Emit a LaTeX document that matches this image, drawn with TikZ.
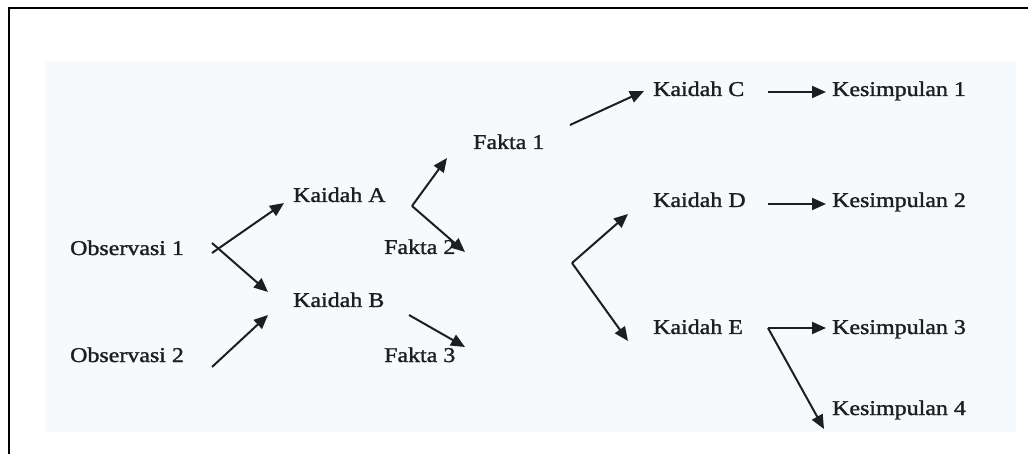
\documentclass[tikz,border=0pt]{standalone}
\usepackage{fontspec}
\setmainfont{Liberation Serif}
\newfontfamily\heavyserif[FakeBold=1.3]{Liberation Serif}
\usetikzlibrary{arrows.meta}
\definecolor{bgpanel}{HTML}{F6FAFC}
\definecolor{ink}{HTML}{1E1E1E}
\newcommand{\wtxt}[1]{\scalebox{1.14}[1]{#1}}
\tikzset{
  lbl/.style={inner sep=0pt, anchor=base west, text=ink, font=\heavyserif\fontsize{21}{25}\selectfont},
  arr/.style={draw=ink, line width=2pt, -{Triangle[length=14pt,width=12pt]}}
}
\begin{document}
\begin{tikzpicture}[x=1pt,y=-1pt]
\useasboundingbox (0,0) rectangle (1028,454);
\fill[white] (0,0) rectangle (1028,454);
\fill[bgpanel] (45,62) rectangle (1016,432);
\draw[black, line width=2.5pt] (9,454) -- (9,8) -- (1028,8);

% labels
\node[lbl] (o1) at (70,255) {\wtxt{Observasi 1}};
\node[lbl] (o2) at (70,362) {\wtxt{Observasi 2}};
\node[lbl] (ka) at (293,202) {\wtxt{Kaidah A}};
\node[lbl] (kb) at (293,307) {\wtxt{Kaidah B}};
\node[lbl] (f1) at (473,149) {\wtxt{Fakta 1}};
\node[lbl] (f2) at (384,254) {\wtxt{Fakta 2}};
\node[lbl] (f3) at (384,362) {\wtxt{Fakta 3}};
\node[lbl] (kc) at (653,96) {\wtxt{Kaidah C}};
\node[lbl] (kd) at (653,207) {\wtxt{Kaidah D}};
\node[lbl] (ke) at (653,334) {\wtxt{Kaidah E}};
\node[lbl] (s1) at (832,96) {\wtxt{Kesimpulan 1}};
\node[lbl] (s2) at (832,207) {\wtxt{Kesimpulan 2}};
\node[lbl] (s3) at (832,334) {\wtxt{Kesimpulan 3}};
\node[lbl] (s4) at (832,415) {\wtxt{Kesimpulan 4}};

% connector end points
\coordinate (o1a) at (212,253);
\coordinate (o1b) at (212,243);
\coordinate (kaIn) at (284,203);
\coordinate (kbIn1) at (268,292);
\coordinate (o2out) at (212,367);
\coordinate (kbIn2) at (268,315);
\coordinate (kaOut) at (412,206);
\coordinate (f1In) at (447,158);
\coordinate (f2In) at (465,252);
\coordinate (kbOut) at (409,315);
\coordinate (f3In) at (465,347);
\coordinate (f1Out) at (570,125);
\coordinate (kcIn) at (644,91);
\coordinate (fork) at (572,263);
\coordinate (kdIn) at (628,214);
\coordinate (keIn) at (628,341);
\coordinate (kcOut) at (768,92);
\coordinate (s1In) at (826,92);
\coordinate (kdOut) at (768,204);
\coordinate (s2In) at (826,204);
\coordinate (keOut) at (768,328);
\coordinate (s3In) at (826,328);
\coordinate (s4In) at (824,429);

% connectors
\draw[arr] (o1a) -- (kaIn);
\draw[arr] (o1b) -- (kbIn1);
\draw[arr] (o2out) -- (kbIn2);
\draw[arr] (kaOut) -- (f1In);
\draw[arr] (kaOut) -- (f2In);
\draw[arr] (kbOut) -- (f3In);
\draw[arr] (f1Out) -- (kcIn);
\draw[arr] (fork) -- (kdIn);
\draw[arr] (fork) -- (keIn);
\draw[arr] (kcOut) -- (s1In);
\draw[arr] (kdOut) -- (s2In);
\draw[arr] (keOut) -- (s3In);
\draw[arr] (keOut) -- (s4In);
\end{tikzpicture}
\end{document}
